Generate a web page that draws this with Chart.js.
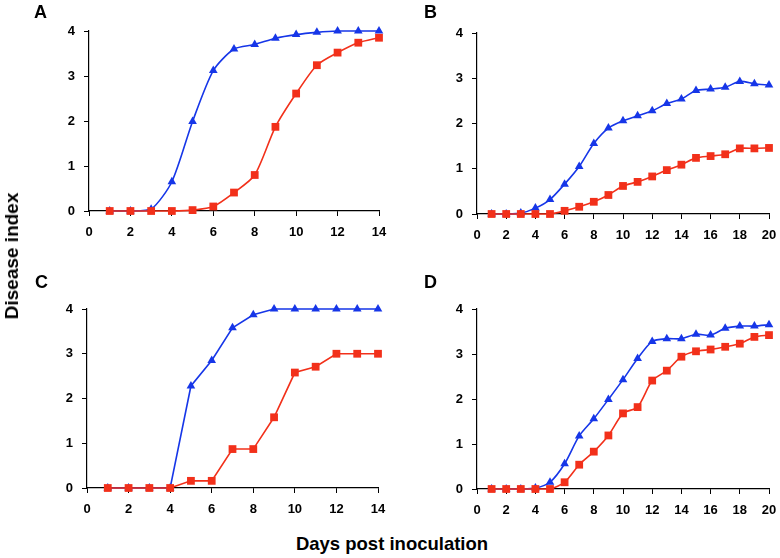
<!DOCTYPE html>
<html>
<head>
<meta charset="utf-8">
<script src="https://cdn.jsdelivr.net/npm/chart.js@4"></script>
<style>
  html, body { margin:0; padding:0; background:#fff; }
  #wrap { position:relative; width:780px; height:558px; overflow:hidden; font-family:"Liberation Sans", Arial, sans-serif; }
  canvas { position:absolute; }
  .lbl { position:absolute; font-weight:bold; color:#000; font-size:18px; line-height:1; }
  #ytitle { position:absolute; left:12px; top:256px; transform:translate(-50%,-50%) rotate(-90deg); font-weight:bold; font-size:19px; white-space:nowrap; }
  #xtitle { position:absolute; left:392px; top:544px; transform:translate(-50%,-50%); font-weight:bold; font-size:18.5px; white-space:nowrap; }
</style>
</head>
<body>
<div id="wrap">
  <canvas id="cA"></canvas>
  <canvas id="cB"></canvas>
  <canvas id="cC"></canvas>
  <canvas id="cD"></canvas>
  <div class="lbl" style="left:34px;top:3px;">A</div>
  <div class="lbl" style="left:424px;top:3px;">B</div>
  <div class="lbl" style="left:35px;top:273px;">C</div>
  <div class="lbl" style="left:424px;top:273px;">D</div>
  <div id="ytitle">Disease index</div>
  <div id="xtitle">Days post inoculation</div>
</div>
<script>
// ---- Data ----
const days14 = [1,2,3,4,5,6,7,8,9,10,11,12,13,14];
const days20 = [1,2,3,4,5,6,7,8,9,10,11,12,13,14,15,16,17,18,19,20];

const blueA = [0,0,0.04,0.65,1.99,3.12,3.6,3.7,3.84,3.92,3.97,4.0,4.0,4.0];
const redA  = [0,0,0,0,0.02,0.1,0.41,0.8,1.87,2.61,3.24,3.52,3.74,3.85];

const blueB = [0,0,0.02,0.13,0.32,0.66,1.05,1.56,1.9,2.06,2.17,2.28,2.44,2.54,2.73,2.76,2.8,2.93,2.88,2.85];
const redB  = [0,0,0,0,0,0.07,0.16,0.27,0.42,0.62,0.71,0.83,0.97,1.09,1.24,1.28,1.32,1.45,1.45,1.46];

const blueC = [0,0,0,0,2.28,2.85,3.58,3.87,4.0,4.0,4.0,4.0,4.0,4.0];
const redC  = [0,0,0,0,0.16,0.16,0.87,0.87,1.58,2.58,2.71,3.0,3.0,3.0];

const blueD = [0,0,0,0.02,0.15,0.56,1.18,1.56,1.99,2.43,2.9,3.28,3.34,3.34,3.44,3.42,3.57,3.62,3.62,3.65];
const redD  = [0,0,0,0,0,0.15,0.54,0.83,1.19,1.68,1.82,2.41,2.63,2.94,3.06,3.1,3.16,3.23,3.38,3.42];

const xTicks14 = [0,2,4,6,8,10,12,14];
const xTicks20 = [0,2,4,6,8,10,12,14,16,18,20];
const yTicks = [0,1,2,3,4];

const BLUE = '#1636e8';
const RED = '#f2301a';

function toXY(xs, ys){ return xs.map((x,i)=>({x:x, y:ys[i]})); }

function panel(id, box, area, xs, red, blue, xmax, xticks, tension){
  const cv = document.getElementById(id);
  cv.style.left = box.left + 'px';
  cv.style.top = box.top + 'px';
  cv.width = box.w; cv.height = box.h;
  cv.style.width = box.w + 'px'; cv.style.height = box.h + 'px';
  const yW = area.left - box.left;
  const xH = box.top + box.h - area.bottom;
  const font = {family:'"Liberation Sans", Arial, sans-serif', size:13, weight:'bold'};
  new Chart(cv, {
    type:'line',
    data:{ datasets:[
      { data: toXY(xs, red), borderColor:RED, backgroundColor:RED, pointStyle:'rect', pointRadius:5.5, pointBorderWidth:0, borderWidth:1.6, tension:tension, clip:false },
      { data: toXY(xs, blue), borderColor:BLUE, backgroundColor:BLUE, pointStyle:'triangle', pointRadius:5, pointBorderWidth:0, borderWidth:1.6, tension:tension, clip:false }
    ]},
    options:{
      responsive:false, animation:false, maintainAspectRatio:false,
      layout:{ padding:{ left:0, top: area.top - box.top, right: box.left + box.w - area.right, bottom:0 } },
      plugins:{ legend:{display:false}, tooltip:{enabled:false} },
      scales:{
        x:{ type:'linear', min:0, max:xmax,
            afterFit(s){ s.height = xH; s.paddingLeft = 0; s.paddingRight = 0; },
            afterBuildTicks(s){ s.ticks = xticks.map(v=>({value:v})); },
            ticks:{ color:'#000', font:font, padding:9, maxRotation:0, autoSkip:false },
            grid:{ display:true, drawOnChartArea:false, drawTicks:true, tickLength:5, color:'#000', lineWidth:1 },
            border:{ color:'#000', width:1.2 } },
        y:{ type:'linear', min:0, max:4,
            afterFit(s){ s.width = yW; s.paddingTop = 0; s.paddingBottom = 0; },
            afterBuildTicks(s){ s.ticks = yTicks.map(v=>({value:v})); },
            ticks:{ color:'#000', font:font, padding:9 },
            grid:{ display:true, drawOnChartArea:false, drawTicks:true, tickLength:5, color:'#000', lineWidth:1 },
            border:{ color:'#000', width:1.2 } }
      }
    }
  });
}

panel('cA', {left:0, top:0, w:390, h:250}, {left:89, top:31, right:379, bottom:211}, days14, redA, blueA, 14, xTicks14, 0.25);
panel('cB', {left:390, top:0, w:390, h:250}, {left:477, top:33, right:769, bottom:214}, days20, redB, blueB, 20, xTicks20, 0.25);
panel('cC', {left:0, top:270, w:390, h:255}, {left:87, top:309, right:378, bottom:488}, days14, redC, blueC, 14, xTicks14, 0);
panel('cD', {left:390, top:270, w:390, h:255}, {left:477, top:309, right:769, bottom:489}, days20, redD, blueD, 20, xTicks20, 0.25);
</script>
</body>
</html>
